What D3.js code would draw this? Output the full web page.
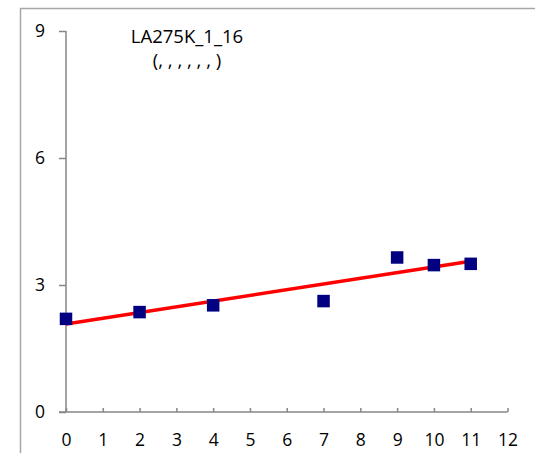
<!DOCTYPE html>
<html>
<head>
<meta charset="utf-8">
<script src="https://cdn.jsdelivr.net/npm/d3@7"></script>
<style>
  body { margin: 0; background: #fff; }
  text { font-family: "Open Sans", sans-serif; fill: #000; }
</style>
</head>
<body>
<div id="chart"></div>
<script>
var width = 535,
    height = 453;

// data
var xValues = [0, 2, 4, 7, 9, 10, 11];
var yValues = [2.20, 2.36, 2.52, 2.62, 3.65, 3.47, 3.50];
var fitX = [0, 11];
var fitY = [2.08, 3.56];
var xTicks = [0, 1, 2, 3, 4, 5, 6, 7, 8, 9, 10, 11, 12];
var yTicks = [0, 3, 6, 9];
var titleLines = ["LA275K_1_16", "(, , , , , , )"];

var x = d3.scaleLinear().domain([0, 12]).range([66, 507.5]);
var y = d3.scaleLinear().domain([0, 9]).range([412, 31]);

var svg = d3.select("#chart").append("svg")
    .attr("width", width)
    .attr("height", height);

// outer chart frame
svg.append("path")
    .attr("d", "M20.5," + height + "V8.5H" + width)
    .attr("fill", "none")
    .attr("stroke", "#a6a6a6")
    .attr("stroke-width", 1.5);

var yAxis = d3.axisLeft(y)
    .tickValues(yTicks)
    .tickSize(7)
    .tickPadding(14)
    .tickSizeOuter(0);

var xAxis = d3.axisBottom(x)
    .tickValues(xTicks)
    .tickSize(-4)
    .tickPadding(22)
    .tickSizeOuter(0);

var gy = svg.append("g")
    .attr("transform", "translate(" + x(0) + ",0)")
    .call(yAxis);

var gx = svg.append("g")
    .attr("transform", "translate(0," + y(0) + ")")
    .call(xAxis);

[gx, gy].forEach(function(g) {
    g.select(".domain").attr("stroke", "#868686").attr("stroke-width", 1.5);
    g.selectAll(".tick line").attr("stroke", "#868686").attr("stroke-width", 1.5);
    g.selectAll(".tick text")
        .style("font-family", "'Open Sans', sans-serif")
        .style("font-size", "17.5px")
        .attr("fill", "#000");
});
gy.select(".domain").attr("d", "M0," + y(9) + "V" + y(0));
gx.select(".domain").attr("d", "M" + (x(0) - 7) + ",0H" + x(12));

// fitted line
var line = d3.line()
    .x(function(d) { return x(d[0]); })
    .y(function(d) { return y(d[1]); });

svg.append("path")
    .datum(d3.zip(fitX, fitY))
    .attr("d", line)
    .attr("fill", "none")
    .attr("stroke", "#ff0000")
    .attr("stroke-width", 3.5);

// points
var s = 12.5;
svg.selectAll("rect.pt")
    .data(d3.zip(xValues, yValues))
    .enter().append("rect")
    .attr("class", "pt")
    .attr("x", function(d) { return x(d[0]) - s / 2; })
    .attr("y", function(d) { return y(d[1]) - s / 2; })
    .attr("width", s)
    .attr("height", s)
    .attr("fill", "#000080");

// title
svg.selectAll("text.title")
    .data(titleLines)
    .enter().append("text")
    .attr("class", "title")
    .attr("x", 187)
    .attr("y", function(d, i) { return 43 + i * 24; })
    .attr("text-anchor", "middle")
    .style("font-size", "18.5px")
    .text(function(d) { return d; });
</script>
</body>
</html>
